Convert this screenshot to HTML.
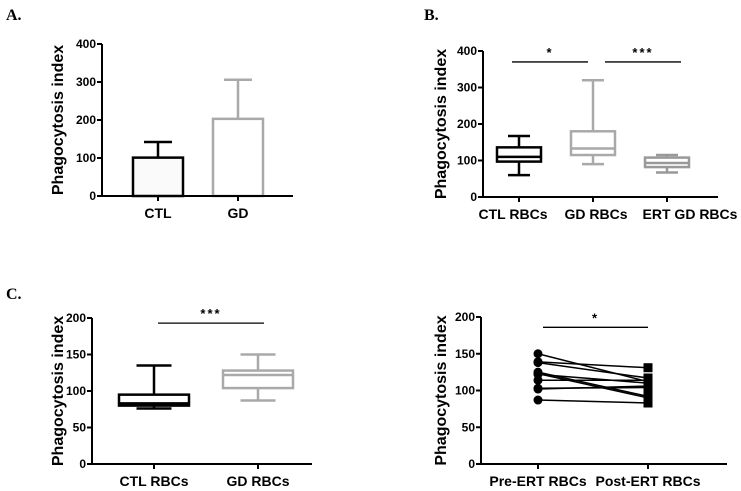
<!DOCTYPE html>
<html><head><meta charset="utf-8"><style>
body{margin:0;background:#fff;}
svg{display:block;font-family:"Liberation Sans",sans-serif;}
.tk{font-size:12px;font-weight:bold;text-anchor:end;}
.cat{font-size:14px;font-weight:bold;text-anchor:middle;}
.yt{font-size:16px;font-weight:bold;text-anchor:middle;}
.pl{font-family:"Liberation Serif",serif;font-size:16px;font-weight:bold;}
</style></head><body>
<svg id="s" width="741" height="491" viewBox="0 0 741 491">
<text class="pl" x="6" y="20">A.</text>
<text class="pl" x="424" y="20">B.</text>
<text class="pl" x="6" y="299">C.</text>
</svg>
<script>
// Panel A
const aCats=["CTL","GD"];
const aMeans=[101,203];
const aErr=[142,306];
const aTicks=[0,100,200,300,400];
// Panel B
const bCats=["CTL RBCs","GD RBCs","ERT GD RBCs"];
const bMin=[60,90,67];
const bQ1=[97,115,82];
const bMed=[110,133,93];
const bQ3=[136,180,108];
const bMax=[167,320,115];
const bTicks=[0,100,200,300,400];
// Panel C
const cCats=["CTL RBCs","GD RBCs"];
const cMin=[76,87];
const cQ1=[80,104];
const cMed=[83,122];
const cQ3=[95,128];
const cMax=[135,150];
const cTicks=[0,50,100,150,200];
// Panel D
const dCats=["Pre-ERT RBCs","Post-ERT RBCs"];
const dPre=[150,139,138,125,123,122,114,103,102,87];
const dPost=[112,131,117,92,90,110,114,104,106,83];
const dTicks=[0,50,100,150,200];

const S=document.getElementById('s');const NS='http://www.w3.org/2000/svg';
function mk(t,a,txt){const e=document.createElementNS(NS,t);for(const k in a)e.setAttribute(k,a[k]);if(txt!==undefined)e.textContent=txt;S.appendChild(e);return e;}
const GR='#a9a9a9';
function axes(p,ticks,cats,catX,prefix,labX){
  labX=labX||catX;
  let e=mk('line',{x1:p.x,y1:p.y0,x2:p.x,y2:p.y0-p.h,stroke:'#000','stroke-width':2});
  
  
  e=mk('line',{x1:p.x-4,y1:p.y0,x2:p.xe,y2:p.y0,stroke:'#000','stroke-width':2});
  
  
  ticks.forEach(t=>{const y=p.sy(t);
    mk('line',{x1:p.x-5,y1:y,x2:p.x,y2:y,stroke:'#000','stroke-width':2});
    e=mk('text',{class:'tk',x:p.x-6,y:y+4},t);
    
    });
  cats.forEach((c,i)=>{const x=catX(i);
    mk('line',{x1:x,y1:p.y0,x2:x,y2:p.y0+5,stroke:'#000','stroke-width':2});
    e=mk('text',{class:'cat',x:labX(i),y:p.y0+22},c);
    
    });
  const cy=p.y0-p.h/2;
  e=mk('text',{class:'yt',x:p.tx,y:cy,transform:`rotate(-90 ${p.tx} ${cy})`},'Phagocytosis index');
  
  
}
function sig(p,v,x1,x2,txt,prefix){
  const y=p.sy(v);
  let e=mk('line',{x1:x1,y1:y,x2:x2,y2:y,stroke:'#000','stroke-width':1.3});
  
  
  e=mk('text',{x:(x1+x2)/2,y:y-5,'text-anchor':'middle','font-size':'13','font-weight':'bold','letter-spacing':'2'},txt);
  
  
}
function boxes(p,catX,w,mn,q1,md,q3,mx,cols,prefix){
  mn.forEach((_,i)=>{const x=catX(i),c=cols[i];
    mk('line',{x1:x,y1:p.sy(mx[i]),x2:x,y2:p.sy(mn[i]),stroke:c,'stroke-width':2.5});
    [mx[i],mn[i]].forEach(v=>mk('line',{x1:x-w/4,y1:p.sy(v),x2:x+w/4,y2:p.sy(v),stroke:c,'stroke-width':2.5}));
    let e=mk('rect',{x:x-w/2,y:p.sy(q3[i]),width:w,height:p.sy(q1[i])-p.sy(q3[i]),fill:'#fff',stroke:c,'stroke-width':2.5});
    
    
    mk('line',{x1:x-w/2,y1:p.sy(md[i]),x2:x+w/2,y2:p.sy(md[i]),stroke:c,'stroke-width':2.5});
  });
}
// A
const pA={x:102,y0:196,h:152,xe:293,tx:63};pA.sy=v=>pA.y0-v/400*pA.h;
const aX=i=>158+i*80;
aMeans.forEach((m,i)=>{const x=aX(i),c=i?GR:'#000';
  mk('line',{x1:x,y1:pA.sy(aErr[i]),x2:x,y2:pA.sy(m),stroke:c,'stroke-width':2.5});
  mk('line',{x1:x-14,y1:pA.sy(aErr[i]),x2:x+14,y2:pA.sy(aErr[i]),stroke:c,'stroke-width':2.5});
  const e=mk('rect',{x:x-25,y:pA.sy(m),width:50,height:pA.y0-pA.sy(m),fill:i?'#fff':'#fafafa',stroke:c,'stroke-width':2.5});
  
  });
axes(pA,aTicks,aCats,aX,'a');
// B
const pB={x:483,y0:197,h:146,xe:718,tx:446};pB.sy=v=>pB.y0-v/400*pB.h;
const bX=i=>519+i*74;
axes(pB,bTicks,bCats,bX,'b',i=>[513,596,690][i]);
boxes(pB,bX,44,bMin,bQ1,bMed,bQ3,bMax,['#000',GR,'#999'],'b');
sig(pB,370,512,588,'*','b');sig(pB,370,605,681,'***','b');
// C
const pC={x:92,y0:464,h:146,xe:312,tx:63};pC.sy=v=>pC.y0-v/200*pC.h;
const cX=i=>154+i*104;
axes(pC,cTicks,cCats,cX,'c');
boxes(pC,cX,70,cMin,cQ1,cMed,cQ3,cMax,['#000',GR],'c');
sig(pC,193,158,264,'***','c');
// D
const pD={x:481,y0:464,h:147,xe:727,tx:446};pD.sy=v=>pD.y0-v/200*pD.h;
const dX=i=>538+i*110;
axes(pD,dTicks,dCats,dX,'d');
dPre.forEach((v,i)=>{
  let e=mk('line',{x1:dX(0),y1:pD.sy(v),x2:dX(1),y2:pD.sy(dPost[i]),stroke:'#000','stroke-width':1.5});
  
  
  e=mk('circle',{cx:dX(0),cy:pD.sy(v),r:4.5,fill:'#000'});
  
  
  e=mk('rect',{x:dX(1)-4.5,y:pD.sy(dPost[i])-4.5,width:9,height:9,fill:'#000'});
  
  });
sig(pD,186,543,648,'*','d');
</script>
</body></html>
